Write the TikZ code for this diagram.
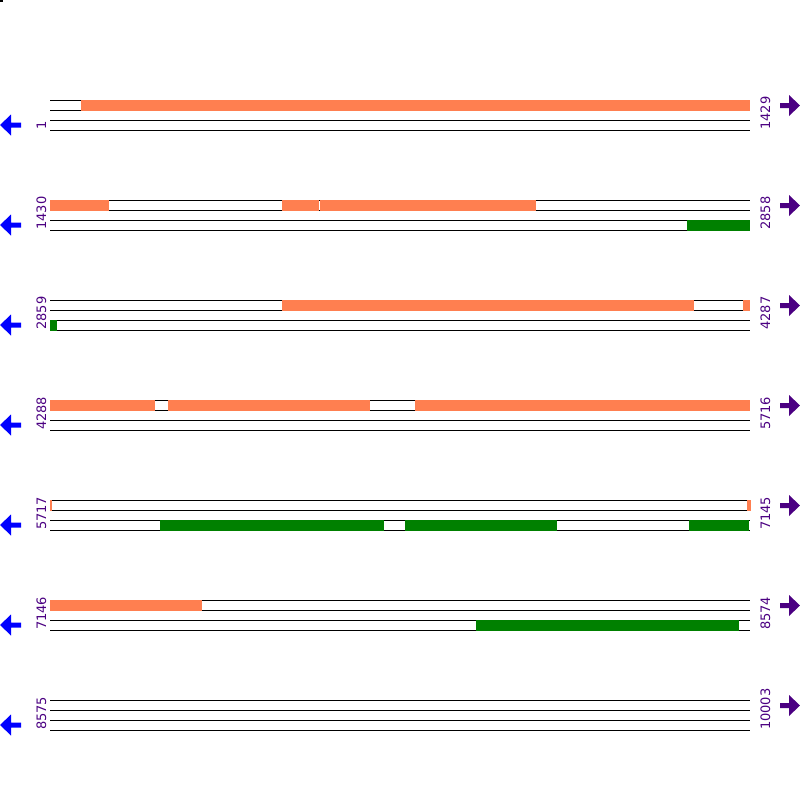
\documentclass[tikz,border=0pt]{standalone}
\usepackage{fontspec}
\setmainfont{DejaVu Sans}
\definecolor{segor}{HTML}{FF7F50}
\definecolor{seggr}{HTML}{008000}
\definecolor{labcol}{HTML}{4B0082}
\begin{document}
\begin{tikzpicture}[x=1pt,y=-1pt,
  strand/.style={black, line width=1pt},
  fwdseg/.style={fill=segor},
  revseg/.style={fill=seggr},
  numlab/.style={text=labcol, font=\fontsize{13}{13}\selectfont, rotate=90, inner sep=0pt, anchor=base west},
  larrow/.style={fill=blue},
  rarrow/.style={fill=labcol}]
\useasboundingbox[fill=white] (0,0) rectangle (800,800);
\fill[black] (0,0) rectangle (3,2);
\foreach \b/\l/\r [count=\i] in {100/1/1429, 200/1430/2858, 300/2859/4287, 400/4288/5716, 500/5717/7145, 600/7146/8574, 700/8575/10003} {
  \foreach \d in {0,10,20,30} \draw[strand] (50,\b+\d) -- (750,\b+\d);
  \node[numlab] (L\i) at (46,\b+30) {\l};
  \node[numlab] (R\i) at (770,\b+30) {\r};
  \fill[larrow] (0,\b+25) -- (11,\b+14.5) -- (11,\b+22.5) -- (21,\b+22.5) -- (21,\b+27.5) -- (11,\b+27.5) -- (11,\b+35.5) -- cycle;
  \fill[rarrow] (800,\b+5.5) -- (789,\b-5) -- (789,\b+3) -- (780,\b+3) -- (780,\b+8) -- (789,\b+8) -- (789,\b+16) -- cycle;
}
% forward (orange) segments
\foreach \b/\xa/\xb in {100/81/750, 200/50/109, 200/282/319, 200/320/536, 300/282/694, 300/743/750, 400/50/155, 400/168/370, 400/415/750, 500/49.5/52, 500/747/750.5, 600/50/202}
  \fill[fwdseg] (\xa,\b-0.5) rectangle (\xb,\b+10.5);
% reverse (green) segments
\foreach \b/\xa/\xb in {200/687/750, 300/50/57, 500/160/384, 500/405/557, 500/689/748.5, 600/476/739}
  \fill[revseg] (\xa,\b+19.5) rectangle (\xb,\b+30.5);
\end{tikzpicture}
\end{document}
